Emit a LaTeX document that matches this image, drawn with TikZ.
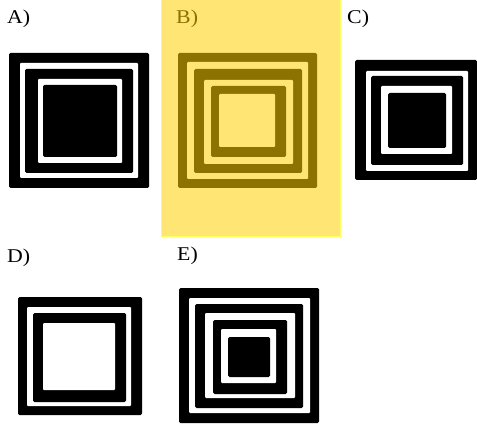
\documentclass[tikz,border=0pt]{standalone}
\usepackage{fontspec}
\setmainfont{Liberation Serif}
\usetikzlibrary{positioning}

\begin{document}
\begin{tikzpicture}[x=1pt, y=-1pt,
lbl/.style={anchor=base west, inner sep=0pt, xscale=1.12, transform shape, font=\fontsize{19.5}{21}\selectfont},
blk/.style={fill=black, rounded corners=1.5pt},
wht/.style={fill=white, rounded corners=1pt},
hilite/.style={fill={rgb,255:red,255;green,208;blue,0}, fill opacity=0.55, draw={rgb,255:red,255;green,255;blue,90}, line width=1pt}
]
\useasboundingbox (0,0) rectangle (477,425);

% Labels
\node[lbl] (labA) at (7,24) {A)};
\node[lbl] (labB) at (176,24) {B)};
\node[lbl] (labC) at (347,24) {C)};
\node[lbl] (labD) at (7,262) {D)};
\node[lbl] (labE) at (177,261) {E)};

% Square A
\fill[blk] (9,53) rectangle (149,188);
\fill[wht] (20,63) rectangle (138,178);
\fill[blk] (25,69) rectangle (133,173);
\fill[wht] (38,79) rectangle (122,163);
\fill[blk] (43,85) rectangle (117,157);

% Square B
\fill[blk] (178,53) rectangle (317,188);
\fill[wht] (187,62) rectangle (308,179);
\fill[blk] (194,69) rectangle (302,173);
\fill[wht] (204,80) rectangle (293,164);
\fill[blk] (211,86) rectangle (286,157);
\fill[wht] (219,94) rectangle (275,147);

% Square C
\fill[blk] (355,60) rectangle (477,180);
\fill[wht] (366,71) rectangle (468,171);
\fill[blk] (371,76) rectangle (463,165);
\fill[wht] (381,86) rectangle (452,154);
\fill[blk] (388,93) rectangle (446,148);

% Square D
\fill[blk] (18,297) rectangle (142,415);
\fill[wht] (27,307) rectangle (131,406);
\fill[blk] (33,313) rectangle (126,402);
\fill[wht] (43,323) rectangle (115,390);

% Square E
\fill[blk] (179,288) rectangle (319,423);
\fill[wht] (189,298) rectangle (310,413);
\fill[blk] (195,304) rectangle (303,408);
\fill[wht] (205,313) rectangle (295,398);
\fill[blk] (213,320) rectangle (287,394);
\fill[wht] (221,329) rectangle (276,383);
\fill[blk] (228,337) rectangle (270,377);

% Highlight on B
\path[hilite] (161.5,0) rectangle (340,236);

\end{tikzpicture}
\end{document}
